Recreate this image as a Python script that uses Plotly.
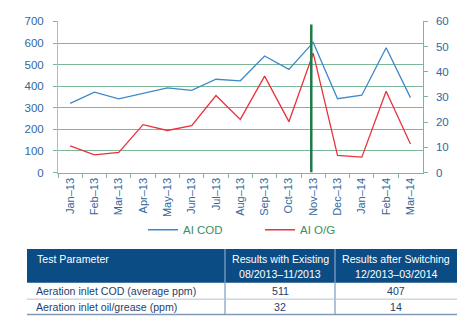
import plotly.graph_objects as go

months = ["Jan\u201313", "Feb\u201313", "Mar\u201313", "Apr\u201313", "May\u201313", "Jun\u201313", "Jul\u201313",
          "Aug\u201313", "Sep\u201313", "Oct\u201313", "Nov\u201313", "Dec\u201313", "Jan\u201314", "Feb\u201314", "Mar\u201314"]
ai_cod = [320, 372, 341, 366, 392, 381, 432, 425, 540, 478, 603, 342, 358, 578, 347]
ai_og = [10.6, 7.0, 8.0, 19.0, 16.7, 18.6, 30.6, 21.1, 38.3, 20.2, 47.4, 6.8, 6.1, 32.3, 11.3]
switch_month = "Nov\u201313"

left_ticks = list(range(0, 701, 100))
right_ticks = list(range(0, 61, 10))

table_header = [["Test Parameter"],
                ["Results with Existing", "08/2013\u201311/2013"],
                ["Results after Switching", "12/2013\u201303/2014"]]
table_param = ["Aeration inlet COD (average ppm)", "Aeration inlet oil/grease (ppm)"]
table_existing = ["511", "32"]
table_after = ["407", "14"]

W, H = 474, 336
FONT = "Liberation Sans, Arial, sans-serif"
TICK_BLUE = "#2f68a0"
GRID = "#7db79a"
AXLINE = "#9fcab2"
TFS = 10.6

fig = go.Figure()
fig.add_trace(go.Scatter(x=months, y=ai_cod, name="AI COD", mode="lines",
                         line=dict(color="#3f88c8", width=1.3), yaxis="y"))
fig.add_trace(go.Scatter(x=months, y=ai_og, name="AI O/G", mode="lines",
                         line=dict(color="#e8323c", width=1.3), yaxis="y2"))

sw = months.index(switch_month) - 0.08
fig.add_shape(type="line", xref="x", yref="y", x0=sw, x1=sw, y0=0, y1=686,
              line=dict(color="#1e7a48", width=2.5), layer="above")

# ---- table (drawn with shapes + annotations in paper space) ----
def px(x):
    return x / W

def py(y):
    return 1 - y / H

col_x = [27, 225, 335, 457]
row_y = [252, 287, 304, 320]
shapes = []
shapes.append(dict(type="rect", xref="paper", yref="paper", x0=px(col_x[0]), x1=px(col_x[-1]),
                   y0=py(row_y[1]), y1=py(row_y[0]), fillcolor="#0b4c85", line=dict(width=0)))
for cx in col_x[1:3]:
    shapes.append(dict(type="line", xref="paper", yref="paper", x0=px(cx), x1=px(cx),
                       y0=py(row_y[1]), y1=py(row_y[0]), line=dict(color="#9db8d4", width=1)))
    shapes.append(dict(type="line", xref="paper", yref="paper", x0=px(cx), x1=px(cx),
                       y0=py(row_y[-1]), y1=py(row_y[1]), line=dict(color="#5f88b5", width=1)))
shapes.append(dict(type="line", xref="paper", yref="paper", x0=px(col_x[0]), x1=px(col_x[-1]),
                   y0=py(row_y[2]), y1=py(row_y[2]), line=dict(color="#b4c2d0", width=1)))
shapes.append(dict(type="line", xref="paper", yref="paper", x0=px(col_x[0]), x1=px(col_x[-1]),
                   y0=py(row_y[3]), y1=py(row_y[3]), line=dict(color="#8199b4", width=1.5)))
for s in shapes:
    fig.add_shape(**s)

annots = []
for ci, lines in enumerate(table_header):
    for li, txt in enumerate(lines):
        if ci == 0:
            x, xa = px(col_x[0] + 8), "left"
        else:
            x, xa = px((col_x[ci] + col_x[ci + 1]) / 2), "center"
        annots.append(dict(x=x, xanchor=xa, y=py(262 + li * 15.5), yanchor="middle", text=txt,
                           font=dict(family=FONT, size=TFS, color="white")))
body_cols = [table_param, table_existing, table_after]
for ci, col in enumerate(body_cols):
    for ri, txt in enumerate(col):
        yc = (row_y[ri + 1] + row_y[ri + 2]) / 2
        if ci == 0:
            x, xa = px(col_x[0] + 7), "left"
        else:
            x, xa = px((col_x[ci] + col_x[ci + 1]) / 2), "center"
        annots.append(dict(x=x, xanchor=xa, y=py(yc), yanchor="middle", text=txt,
                           font=dict(family=FONT, size=TFS, color="#1d3f6e")))
for a in annots:
    fig.add_annotation(xref="paper", yref="paper", showarrow=False, **a)

fig.update_layout(
    width=W, height=H,
    margin=dict(l=0, r=0, t=0, b=0),
    paper_bgcolor="white", plot_bgcolor="white",
    font=dict(family=FONT, size=11, color=TICK_BLUE),
    showlegend=True,
    legend=dict(orientation="h", x=143 / W, xanchor="left", y=1 - 217 / H, yanchor="top",
                font=dict(family=FONT, size=11.5, color="#3c8d5c"),
                entrywidth=72, bgcolor="rgba(0,0,0,0)"),
    xaxis=dict(domain=[58 / W, 422.6 / W], type="category", range=[-0.5, len(months) - 0.5],
               tickangle=-90, tickson="boundaries", ticks="outside", ticklen=4, tickcolor=GRID,
               showline=True, linecolor=GRID, linewidth=1, showgrid=False,
               tickfont=dict(size=11, color=TICK_BLUE), anchor="y"),
    yaxis=dict(domain=[1 - 172.7 / H, 1 - 16 / H], range=[0, 700], tickvals=left_ticks,
               showgrid=True, gridcolor=GRID, gridwidth=1, zeroline=False,
               showline=True, linecolor=AXLINE, ticks="outside", ticklen=4, tickcolor=GRID,
               ticklabelstandoff=7,
               tickfont=dict(size=11.5, color=TICK_BLUE)),
    yaxis2=dict(range=[0, 60], tickvals=right_ticks, overlaying="y", side="right",
                showgrid=False, zeroline=False, showline=True, linecolor=GRID,
                ticks="outside", ticklen=4, tickcolor=GRID, ticklabelstandoff=6,
                tickfont=dict(size=11.5, color=TICK_BLUE), anchor="x"),
)

fig.write_html("out.html")
